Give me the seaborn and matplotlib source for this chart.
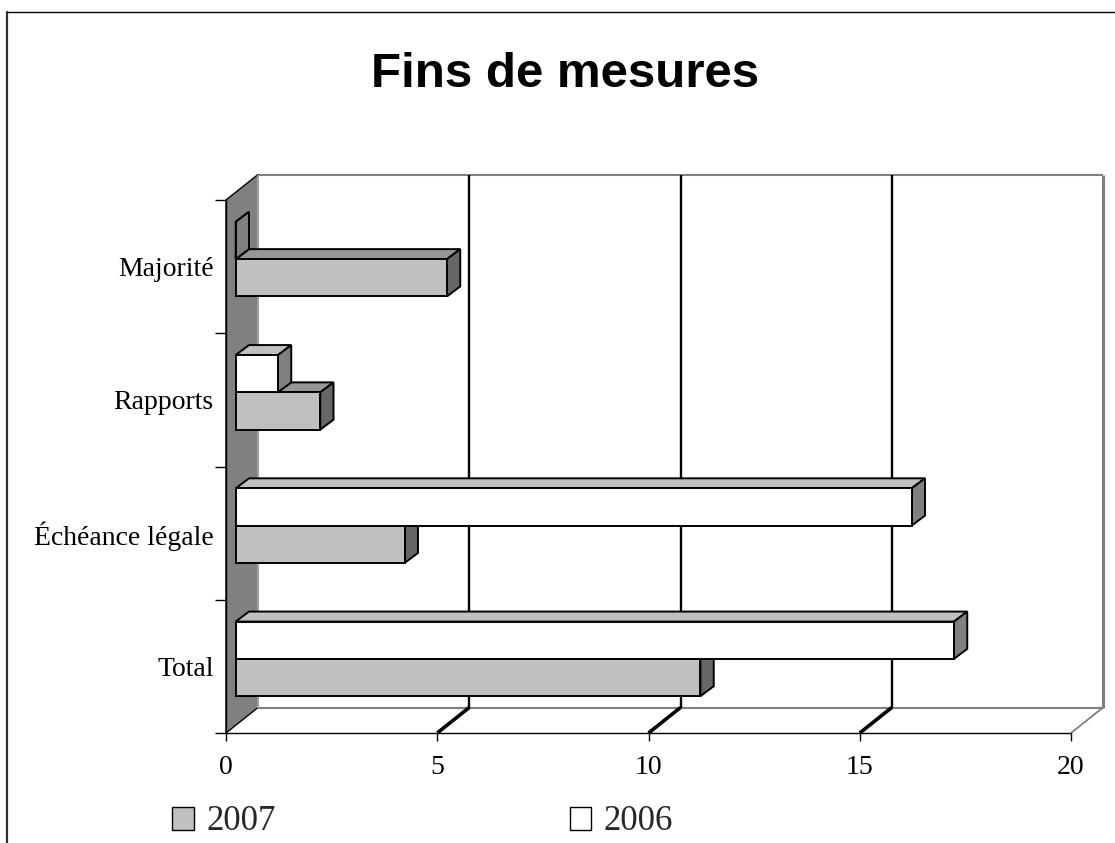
import matplotlib
matplotlib.use("Agg")
import matplotlib.pyplot as plt
import seaborn as sns
import pandas as pd
from matplotlib.patches import Polygon, Patch, Rectangle
from matplotlib.transforms import IdentityTransform, ScaledTranslation
from matplotlib.lines import Line2D

# ---------------- data ----------------
categories = ["Majorité", "Rapports", "Échéance légale", "Total"]
values_2007 = [5, 2, 4, 11]
values_2006 = [0, 1, 16, 17]
years = ["2007", "2006"]
x_ticks = [0, 5, 10, 15, 20]
title = "Fins de mesures"

# ---------------- style ----------------
W, H, DPI = 1115, 843, 100
sns.set_theme(style="white")
plt.rcParams["font.family"] = ["Liberation Serif", "DejaVu Serif"]

front_col = {"2007": "#C0C0C0", "2006": "#FFFFFF"}
top_col = {"2007": "#969696", "2006": "#C0C0C0"}
side_col = {"2007": "#666666", "2006": "#808080"}

df = pd.DataFrame({
    "Catégorie": categories * 2,
    "Année": ["2007"] * len(categories) + ["2006"] * len(categories),
    "Valeur": values_2007 + values_2006,
})

fig = plt.figure(figsize=(W / DPI, H / DPI), dpi=DPI)
fig.patch.set_facecolor("white")
L, R, T, B = 226, 1071, 200, 733
ax = fig.add_axes([L / W, 1 - B / H, (R - L) / W, (B - T) / H])
ax.patch.set_alpha(0)

sns.barplot(data=df, x="Valeur", y="Catégorie", hue="Année",
            order=categories, hue_order=["2006", "2007"],
            palette=front_col, saturation=1, width=0.56,
            edgecolor="black", linewidth=1.4, errorbar=None,
            legend=False, ax=ax)
bars = [p for p in ax.patches if isinstance(p, Rectangle)]

ax.autoscale(False)
ax.set_xlim(x_ticks[0], x_ticks[-1])
ax.set_ylim(len(categories) - 0.5, -0.5)
ax.set_xlabel("")
ax.set_ylabel("")
ax.grid(False)

# pixel offsets (display coords, y up)
BX, BY = 9.7, 7.5      # bar front plane relative to chart front plane
DX, DY = 13.3, 10.0    # bar depth
PX, PY = 32.0, 25.5    # back plane

def disp(x, y, ox=0.0, oy=0.0):
    px, py = ax.transData.transform((x, y))
    return (px + ox, py + oy)

def poly(pts, fc, ec="black", lw=1.0, z=1.0):
    p = Polygon(pts, closed=True, facecolor=fc, edgecolor=ec, linewidth=lw,
                transform=IdentityTransform(), clip_on=False, zorder=z,
                joinstyle="miter")
    ax.add_artist(p)

def line(p0, p1, color="black", lw=1.0, z=1.0):
    ln = Line2D([p0[0], p1[0]], [p0[1], p1[1]], color=color, linewidth=lw,
                transform=IdentityTransform(), clip_on=False, zorder=z,
                solid_capstyle="butt")
    ax.add_artist(ln)

x0, x1 = x_ticks[0], x_ticks[-1]
yb, yt = len(categories) - 0.5, -0.5

# floor
poly([disp(x0, yb), disp(x1, yb), disp(x1, yb, PX, PY), disp(x0, yb, PX, PY)],
     "white", ec="none", lw=0, z=0.2)
# back plane outline
line(disp(x0, yt, PX, PY), disp(x1, yt, PX, PY), "#808080", 1.5, 0.4)
line(disp(x1, yt, PX, PY), disp(x1, yb, PX, PY), "#808080", 2.2, 0.4)
line(disp(x0, yb, PX, PY), disp(x1, yb, PX, PY), "#808080", 1.5, 0.4)
line(disp(x1, yb), disp(x1, yb, PX, PY), "#808080", 1.3, 0.4)
# gridlines
for t in x_ticks[1:-1]:
    line(disp(t, yb, PX, PY), disp(t, yt, PX, PY), "black", 1.7, 0.5)
    line(disp(t, yb), disp(t, yb, PX, PY), "black", 2.6, 0.5)
# left wall
poly([disp(x0, yb), disp(x0, yt), disp(x0, yt, PX, PY), disp(x0, yb, PX, PY)],
     "#808080", ec="black", lw=1.0, z=0.6)
line(disp(x0, yt, PX, PY), disp(x0, yb, PX, PY), "#A0A0A0", 1.5, 0.7)

# bars: shift to bar plane and add 3D faces
shift = ax.transData + ScaledTranslation(BX / DPI, BY / DPI, fig.dpi_scale_trans)
for p in bars:
    fc = p.get_facecolor()
    yr = "2006" if fc[0] > 0.9 else "2007"
    z = 3 if yr == "2007" else 4
    p.set_transform(shift)
    p.set_zorder(z + 0.2)
    p.set_clip_on(False)
    xa, w = p.get_x(), p.get_width()
    ya, h = p.get_y(), p.get_height()
    a = disp(xa, ya, BX, BY)
    b = disp(xa + w, ya + h, BX, BY)
    fx0, fx1 = min(a[0], b[0]), max(a[0], b[0])
    fy0, fy1 = min(a[1], b[1]), max(a[1], b[1])
    poly([(fx0, fy1), (fx1, fy1), (fx1 + DX, fy1 + DY), (fx0 + DX, fy1 + DY)],
         top_col[yr], lw=1.4, z=z)
    poly([(fx1, fy0), (fx1, fy1), (fx1 + DX, fy1 + DY), (fx1 + DX, fy0 + DY)],
         side_col[yr], lw=1.4, z=z + 0.1)

# axes, ticks
for s in ["top", "right"]:
    ax.spines[s].set_visible(False)
ax.spines["left"].set_color("black")
ax.spines["left"].set_linewidth(1.0)
ax.spines["bottom"].set_color("black")
ax.spines["bottom"].set_linewidth(1.0)
ax.spines["left"].set_zorder(0.8)

ax.set_xticks(x_ticks)
ax.set_xticklabels([str(t) for t in x_ticks])
ax.tick_params(axis="x", bottom=True, length=6, width=1, color="black",
               labelsize=20, pad=10, labelcolor="black")
ax.set_yticks(range(len(categories)))
ax.set_yticklabels(categories)
ax.set_yticks([i - 0.5 for i in range(len(categories) + 1)], minor=True)
ax.tick_params(axis="y", which="major", left=False, length=0, labelsize=20,
               pad=9, labelcolor="black")
ax.tick_params(axis="y", which="minor", left=True, length=8, width=1,
               color="black")

# title
fig.text(565 / W, 1 - 87 / H, title, ha="center", va="baseline",
         fontsize=35.5, fontweight="bold", family="Liberation Sans",
         color="black")

# legend
handles = [Patch(facecolor=front_col[y], edgecolor="black", linewidth=1.0)
           for y in years]
fig.legend(handles, years, ncol=2, loc="center left",
           bbox_to_anchor=(172 / W, 1 - 822 / H), frameon=False,
           fontsize=25, handlelength=0.63, handleheight=0.63,
           handletextpad=0.35, columnspacing=8.47, borderpad=0,
           borderaxespad=0)

# outer border (left and top visible)
fig.add_artist(Line2D([7 / W, 7 / W], [0, 1 - 12 / H], color="#303030",
                      linewidth=1.6, transform=fig.transFigure))
fig.add_artist(Line2D([7 / W, 1], [1 - 12 / H, 1 - 12 / H], color="black",
                      linewidth=1.0, transform=fig.transFigure))

fig.savefig("out.png", dpi=DPI, facecolor="white")
